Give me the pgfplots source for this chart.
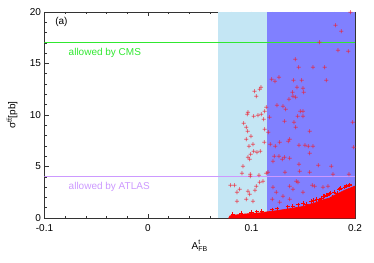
\documentclass[border=0pt]{standalone}
\usepackage{pgfplots}
\pgfplotsset{compat=1.18}
\usepackage{amsmath}
\usepackage{fontspec}
\setmainfont{Liberation Sans}
\definecolor{lblue}{HTML}{C4E6F4}
\definecolor{dblue}{HTML}{8080FF}
\definecolor{cmsgreen}{HTML}{30E830}
\definecolor{atlasviolet}{HTML}{CC99FF}
\definecolor{markred}{HTML}{EE2030}
\begin{document}
\begin{tikzpicture}
\begin{axis}[
  scale only axis,
  width=310.5pt, height=206pt,
  xmin=-0.1, xmax=0.2, ymin=0, ymax=20,
  xtick={-0.1,0,0.1,0.2},
  xticklabels={-0.1,0,0.1,0.2},
  ytick={0,5,10,15,20},
  minor x tick num=4,
  minor y tick num=4,
  tick align=inside,
  major tick length=4pt,
  minor tick length=2.5pt,
  tick style={black!80, line width=0.6pt},
  axis line style={black!80, line width=0.8pt},
  /pgf/number format/assume math mode=true,
  ticklabel style={font=\fontsize{10}{12}\selectfont},
  xticklabel style={yshift=-3pt},
  xlabel={$\text{A}^{\text{t}}_{\text{FB}}$},
  ylabel={$\text{σ}^{\text{t}\bar{\text{t}}}$[pb]},
  label style={font=\fontsize{10}{12}\selectfont},
  xlabel style={at={(axis description cs:0.5,-0.135)}, anchor=center},
  ylabel style={at={(axis description cs:-0.105,0.5)}, anchor=center},
  clip=true,
]
% shaded regions
\addplot[fill=lblue, draw=none] coordinates {(0.068,0) (0.115,0) (0.115,20) (0.068,20)} -- cycle;
\addplot[fill=dblue, draw=none] coordinates {(0.115,0) (0.2,0) (0.2,20) (0.115,20)} -- cycle;
% limit lines
\addplot[draw=cmsgreen, line width=0.9pt, mark=none] coordinates {(-0.1,17) (0.2,17)};
\addplot[draw=atlasviolet, line width=0.9pt, mark=none] coordinates {(-0.1,4) (0.2,4)};
% dense band
\addplot[fill=red, draw=red, line width=0.6pt, mark=none] coordinates {
(0.078,0) (0.079,0.2) (0.082,0.28) (0.085,0.3) (0.09,0.36) (0.095,0.4) (0.10,0.45)
(0.105,0.48) (0.11,0.52) (0.115,0.6) (0.12,0.66) (0.125,0.72) (0.13,0.8) (0.135,0.88)
(0.14,0.95) (0.145,1.05) (0.15,1.12) (0.155,1.3) (0.16,1.42) (0.165,1.6) (0.17,1.8)
(0.175,1.92) (0.18,2.2) (0.185,2.45) (0.19,2.7) (0.195,2.9) (0.2,3.1) (0.2,0)} -- cycle;
% scattered points (drawn as + signs at each data point)
\addplot[only marks, mark=none,
  nodes near coords={+},
  every node near coord/.style={anchor=center, inner sep=0pt, text=markred,
    font=\fontsize{8.5}{8.5}\selectfont}] coordinates {
(0.1958,19.87) (0.1813,18.64) (0.1868,18.09) (0.1659,16.96) (0.1836,16.24) (0.1936,16.15)
(0.1424,15.34) (0.1457,14.6) (0.1595,14.53) (0.1708,14.53) (0.1724,13.33) (0.1196,13.4)
(0.1228,13.24) (0.1266,13.56) (0.1408,13.3) (0.1486,13.3) (0.1441,12.59) (0.1396,12.17)
(0.1402,11.78) (0.1428,11.62) (0.1498,12.49) (0.1505,12.1) (0.1364,11.46) (0.1093,12.65)
(0.1029,12.27) (0.1080,12.43) (0.1048,11.78) (0.1247,10.87) (0.1305,10.81) (0.1331,10.49)
(0.1473,10.29) (0.1498,10.29) (0.1447,9.84) (0.1498,9.77) (0.1144,10.65) (0.1128,10.32)
(0.0967,10.16) (0.0961,9.97) (0.1022,9.77) (0.1064,9.9) (0.1096,10.0) (0.1119,9.51)
(0.1176,9.68) (0.1321,9.29) (0.1411,9.19) (0.1428,8.7) (0.198,9.19) (0.0925,9.09)
(0.0951,8.7) (0.0964,8.38) (0.1128,8.54) (0.1163,8.28) (0.1563,8.38) (0.0996,7.9)
(0.0951,7.57) (0.1016,7.09) (0.0977,6.93) (0.1357,7.41) (0.1370,7.57) (0.1273,7.25)
(0.1183,7.09) (0.1125,7.25) (0.1231,6.93) (0.1460,7.02) (0.1518,7.02) (0.1550,6.93)
(0.1595,6.93) (0.1563,6.21) (0.1990,6.76) (0.1022,6.44) (0.1054,6.28) (0.1086,6.44)
(0.0993,6.12) (0.0967,5.79) (0.0983,5.63) (0.1221,5.95) (0.1266,5.95) (0.1299,5.63)
(0.1208,5.47) (0.1321,5.79) (0.1370,5.70) (0.1460,5.15) (0.1646,5.05) (0.1325,4.4)
(0.1466,4.5) (0.1563,4.4) (0.1772,4.98) (0.1160,4.4) (0.1144,4.27) (0.0919,4.98)
(0.0909,4.27) (0.0990,4.17) (0.0990,3.95) (0.1074,4.08) (0.1788,4.17) (0.1942,4.17)
(0.0797,3.11) (0.0836,3.11) (0.0887,2.72) (0.0861,2.39) (0.0967,2.56) (0.0983,2.23)
(0.1048,3.04) (0.1080,3.37) (0.1112,3.53) (0.1035,2.65) (0.0951,1.75) (0.0861,1.59)
(0.1016,1.59) (0.1208,2.88) (0.1241,2.39) (0.1305,2.07) (0.1370,3.04) (0.1434,3.53)
(0.1450,3.37) (0.1402,2.72) (0.1498,2.39) (0.1589,3.11) (0.1611,3.04) (0.1691,2.88)
(0.1740,3.04) (0.1202,1.75) (0.1273,1.42) (0.1370,1.75)
};
% jagged edge of the dense band
\addplot[only marks, mark=+, mark size=2.1pt, color=red, mark options={draw=red, line width=1.15pt}] coordinates {
(0.15,1.4) (0.16,1.7) (0.17,2.1) (0.175,2.3) (0.18,2.5) (0.185,2.8) (0.19,3.0) (0.195,3.2)
(0.198,2.6) (0.188,2.2) (0.178,2.0) (0.168,1.9) (0.158,1.6) (0.145,1.3) (0.135,1.1)
(0.125,0.9) (0.192,3.1) (0.183,2.4) (0.173,2.2) (0.163,1.8) (0.110,0.65) (0.100,0.55)
(0.090,0.45) (0.082,0.35) (0.196,2.5) (0.186,2.9) (0.176,2.4) (0.166,1.75) (0.153,1.35)
(0.14,1.15) (0.12,0.8) (0.105,0.6)
};
\node[anchor=west, font=\fontsize{10}{12}\selectfont] at (axis cs:-0.093,19.05) {(a)};
\node[anchor=west, text=cmsgreen, font=\fontsize{10}{12}\selectfont] at (axis cs:-0.08,16.0) {allowed by CMS};
\node[anchor=west, text=atlasviolet, font=\fontsize{10}{12}\selectfont] at (axis cs:-0.08,3.0) {allowed by ATLAS};
\end{axis}
\useasboundingbox ([shift={(-44.5pt,-44pt)}]current axis.south west) rectangle ([shift={(19pt,12pt)}]current axis.north east);
\end{tikzpicture}
\end{document}
